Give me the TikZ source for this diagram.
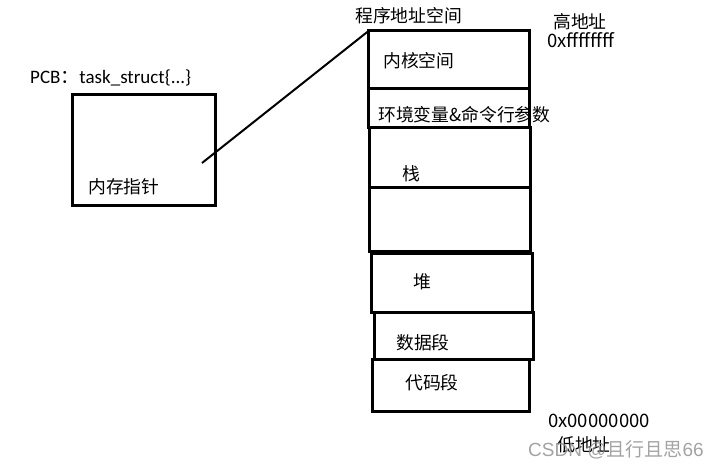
\documentclass[tikz,border=0pt]{standalone}
\usepackage{fontspec}
\setmainfont{Carlito}
\newfontfamily\cjk{Noto Sans CJK SC}
\newfontfamily\wm{Liberation Sans}
\begin{document}
\begin{tikzpicture}[x=1pt,y=-1pt,
  box/.style={draw, line width=3pt, inner sep=0pt, outer sep=0pt},
  txt/.style={anchor=west, inner sep=0pt, font=\cjk\fontsize{17.8}{19}\selectfont},
  addr/.style={anchor=west, inner sep=0pt, font=\cjk\fontsize{18.5}{20}\selectfont},
  lat/.style={anchor=west, inner sep=0pt, font=\fontsize{19}{21}\selectfont}]
\useasboundingbox (0,0) rectangle (719,468);
% PCB
\node[box, minimum width=143pt, minimum height=110pt] (pcb) at (143.5,150) {};
\node[lat] (pcblabel) at (30,78) {PCB{\cjk ：}task\_struct\{...\}};
\node[txt] (ptrtext) at (88,187) {内存指针};
% memory layout
\node[box, minimum width=161pt, minimum height=58pt] (kern) at (449,60) {};
\node[box, minimum width=161pt, minimum height=38.5pt] (env) at (449,108.25) {};
\node[box, minimum width=161pt, minimum height=59.5pt] (stack) at (449.5,157.25) {};
\node[box, minimum width=161pt, minimum height=64pt] (gap) at (449.5,219) {};
\node[box, minimum width=161pt, minimum height=59pt] (heap) at (452,282.5) {};
\node[box, minimum width=159pt, minimum height=47pt] (data) at (453.5,335.5) {};
\node[box, minimum width=157pt, minimum height=52pt] (code) at (451,385) {};
% pointer line
\coordinate (ptr) at (202,163);
\draw[line width=2pt] (ptr) -- (kern.north west);
% labels
\node[txt] (title) at (355,16) {程序地址空间};
\node[txt] (lkern) at (383,61) {内核空间};
\node[txt] (lenv) at (378,115) {环境变量\&命令行参数};
\node[txt] (lstack) at (402,174) {栈};
\node[txt] (lheap) at (413,282) {堆};
\node[txt] (ldata) at (396,343) {数据段};
\node[txt] (lcode) at (405,383) {代码段};
\node[txt] (high) at (553,22) {高地址};
\node[addr] (highaddr) at (547,40) {0xffffffff};
\node[addr] (lowaddr) at (548,421) {0x00000000};
\node[txt] (low) at (557,445) {低地址};
\node[anchor=west, inner sep=0pt, text=black!45, opacity=0.8, font=\wm\fontsize{19}{21}\selectfont] (wm) at (528,450) {CSDN @{\cjk 且行且思}66};
\end{tikzpicture}
\end{document}
